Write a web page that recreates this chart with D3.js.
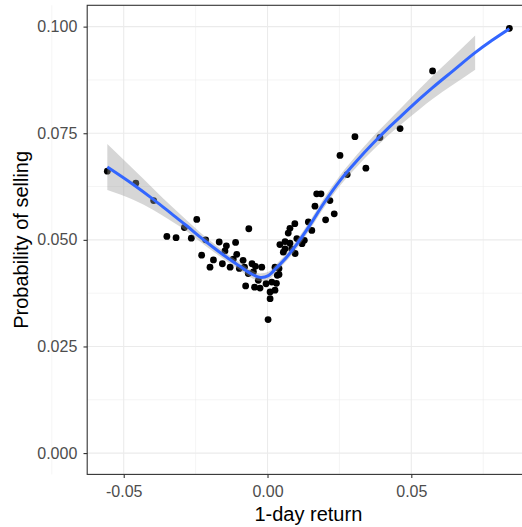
<!DOCTYPE html>
<html>
<head>
<meta charset="utf-8">
<script src="https://cdn.jsdelivr.net/npm/d3@7"></script>
<style>
  body { margin: 0; background: #fff; }
  svg text { font-family: "Liberation Sans", Arial, sans-serif; }
</style>
</head>
<body>
<svg id="chart" width="522" height="527"></svg>
<script>
// observed points: 1-day return vs probability of selling
const pointReturn = [
  -0.0557, -0.0458, -0.0396, -0.0350, -0.0318, -0.0289, -0.0265, -0.0246, -0.0215, -0.0229,
  -0.0200, -0.0188, -0.0168, -0.0143, -0.0148, -0.0111, -0.0157, -0.0107, -0.0119, -0.0130,
  -0.0085, -0.0080, -0.0098, -0.0065, -0.0054, -0.0042, -0.0020, -0.0067, -0.0049, -0.0076,
  -0.0045, -0.0032, -0.0026, -0.0005, 0.0009, 0.0009, 0.0002, 0.0015, 0.0026, 0.0031,
  0.0034, 0.0040, 0.0026, 0.0040, 0.0043, 0.0061, 0.0055, 0.0061, 0.0072, 0.0078,
  0.0095, 0.0078, 0.0084, 0.0102, 0.0096, 0.0128, 0.0120, 0.0142, 0.0154, 0.0171,
  0.0186, 0.0165, 0.0217, 0.0202, 0.0232, 0.0252, 0.0277, 0.0304, 0.0342, 0.0391,
  0.0461, 0.0574, 0.0841
]
const pointProb = [
  0.0661, 0.0633, 0.0592, 0.0508, 0.0505, 0.0529, 0.0504, 0.0548, 0.0500, 0.0464,
  0.0436, 0.0453, 0.0495, 0.0486, 0.0474, 0.0494, 0.0444, 0.0466, 0.0455, 0.0436,
  0.0452, 0.0436, 0.0433, 0.0526, 0.0444, 0.0438, 0.0436, 0.0421, 0.0425, 0.0392,
  0.0389, 0.0405, 0.0387, 0.0397, 0.0378, 0.0362, 0.0313, 0.0401, 0.0382, 0.0398,
  0.0417, 0.0419, 0.0436, 0.0433, 0.0489, 0.0496, 0.0471, 0.0479, 0.0516, 0.0527,
  0.0538, 0.0492, 0.0479, 0.0503, 0.0468, 0.0499, 0.0491, 0.0542, 0.0522, 0.0608,
  0.0608, 0.0579, 0.0592, 0.0547, 0.0561, 0.0698, 0.0653, 0.0742, 0.0668, 0.0740,
  0.0761, 0.0896, 0.0996
]

// loess fit, with half width of the confidence band
const smoothReturn = [
  -0.0557, -0.0467, -0.0397, -0.0328, -0.0281, -0.0235, -0.0188, -0.0142, -0.0096, -0.0061,
  -0.0026, 0.0003, 0.0032, 0.0067, 0.0102, 0.0148, 0.0194, 0.0252, 0.0310, 0.0368,
  0.0426, 0.0461, 0.0530, 0.0574, 0.0646, 0.0722, 0.0781, 0.0841
]
const smoothProb = [
  0.0671, 0.0630, 0.0595, 0.0558, 0.0533, 0.0507, 0.0482, 0.0459, 0.0438, 0.0422,
  0.0412, 0.0416, 0.0435, 0.0460, 0.0490, 0.0535, 0.0584, 0.0639, 0.0685, 0.0727,
  0.0766, 0.0788, 0.0831, 0.0857, 0.0897, 0.0939, 0.0968, 0.0995
]
const smoothHalf = [
  0.0054, 0.0036, 0.0025, 0.0017, 0.0013, 0.0011, 0.0010, 0.0009, 0.0009, 0.0009,
  0.0009, 0.0009, 0.0009, 0.0009, 0.0010, 0.0010, 0.0011, 0.0012, 0.0014, 0.0016,
  0.0017, 0.0019, 0.0024, 0.0027, 0.0033, 0.0040, 0.0050, 0.0060
]

const xTicks = [-0.05, 0, 0.05]
const xTickLabels = ['-0.05', '0.00', '0.05']
const xMinor = [-0.075, -0.025, 0.025, 0.075]
const yTicks = [0, 0.025, 0.05, 0.075, 0.1]
const yTickLabels = ['0.000', '0.025', '0.050', '0.075', '0.100']
const yMinor = [0.0125, 0.0375, 0.0625, 0.0875]
const yLimit = [0, 0.1]

const panel = { left: 87.2, top: 5.3, right: 529.5, bottom: 474.4 }

const svg = d3.select('#chart')

const xScale = d3.scaleLinear()
  .domain([-0.0627, 0.0911])
  .range([panel.left, panel.right])

const yScale = d3.scaleLinear()
  .domain([yLimit[0] - 0.005, yLimit[1] + 0.005])
  .range([panel.bottom, panel.top])

svg.append('defs').append('clipPath')
  .attr('id', 'panel-clip')
  .append('rect')
  .attr('x', panel.left)
  .attr('y', panel.top)
  .attr('width', panel.right - panel.left)
  .attr('height', panel.bottom - panel.top)

// grid
const grid = svg.append('g').attr('class', 'grid')
grid.selectAll('.x-minor')
  .data(xMinor)
  .join('line')
  .attr('x1', d => xScale(d)).attr('x2', d => xScale(d))
  .attr('y1', panel.top).attr('y2', panel.bottom)
  .attr('stroke', '#ebebeb').attr('stroke-width', 0.55)
grid.selectAll('.y-minor')
  .data(yMinor)
  .join('line')
  .attr('y1', d => yScale(d)).attr('y2', d => yScale(d))
  .attr('x1', panel.left).attr('x2', panel.right)
  .attr('stroke', '#ebebeb').attr('stroke-width', 0.55)
grid.selectAll('.x-major')
  .data(xTicks)
  .join('line')
  .attr('x1', d => xScale(d)).attr('x2', d => xScale(d))
  .attr('y1', panel.top).attr('y2', panel.bottom)
  .attr('stroke', '#ebebeb').attr('stroke-width', 1.1)
grid.selectAll('.y-major')
  .data(yTicks)
  .join('line')
  .attr('y1', d => yScale(d)).attr('y2', d => yScale(d))
  .attr('x1', panel.left).attr('x2', panel.right)
  .attr('stroke', '#ebebeb').attr('stroke-width', 1.1)

const plot = svg.append('g').attr('clip-path', 'url(#panel-clip)')

// points
plot.append('g')
  .selectAll('circle')
  .data(pointReturn.map((r, i) => ({ r: r, p: pointProb[i] })))
  .join('circle')
  .attr('cx', d => xScale(d.r))
  .attr('cy', d => yScale(d.p))
  .attr('r', 3.4)
  .attr('fill', '#000')

// smoother band: rows whose upper bound leaves the y limits are dropped
const smooth = smoothReturn.map((r, i) => ({
  r: r, p: smoothProb[i], lo: smoothProb[i] - smoothHalf[i], hi: smoothProb[i] + smoothHalf[i]
}))
const band = smooth.filter(d => d.hi <= yLimit[1] && d.lo >= yLimit[0])

plot.append('path')
  .datum(band)
  .attr('d', d3.area()
    .x(d => xScale(d.r))
    .y0(d => yScale(d.lo))
    .y1(d => yScale(d.hi))
    .curve(d3.curveMonotoneX))
  .attr('fill', '#999999')
  .attr('fill-opacity', 0.4)

plot.append('path')
  .datum(smooth)
  .attr('d', d3.line()
    .x(d => xScale(d.r))
    .y(d => yScale(d.p))
    .curve(d3.curveCatmullRom.alpha(0.5)))
  .attr('fill', 'none')
  .attr('stroke', '#3366ff')
  .attr('stroke-width', 3)

// border
svg.append('rect')
  .attr('x', panel.left)
  .attr('y', panel.top)
  .attr('width', panel.right - panel.left)
  .attr('height', panel.bottom - panel.top)
  .attr('fill', 'none')
  .attr('stroke', '#333333')
  .attr('stroke-width', 1.1)

// axes
const xAxis = svg.append('g')
  .attr('class', 'x-axis')
  .attr('transform', 'translate(0,' + panel.bottom + ')')
  .call(d3.axisBottom(xScale)
    .tickValues(xTicks)
    .tickFormat((d, i) => xTickLabels[i])
    .tickSize(3.7)
    .tickPadding(8))
xAxis.select('.domain').remove()

const yAxis = svg.append('g')
  .attr('class', 'y-axis')
  .attr('transform', 'translate(' + panel.left + ',0)')
  .call(d3.axisLeft(yScale)
    .tickValues(yTicks)
    .tickFormat((d, i) => yTickLabels[i])
    .tickSize(3.7)
    .tickPadding(6.2))
yAxis.select('.domain').remove()

svg.selectAll('.x-axis .tick line, .y-axis .tick line')
  .attr('stroke', '#333333')
  .attr('stroke-width', 1.1)
svg.selectAll('.x-axis text, .y-axis text')
  .attr('fill', '#4d4d4d')
  .attr('font-size', 16)
  .attr('font-family', '"Liberation Sans", Arial, sans-serif')

// axis titles
svg.append('text')
  .text('1-day return')
  .attr('x', (panel.left + panel.right) / 2)
  .attr('y', 521)
  .attr('text-anchor', 'middle')
  .attr('font-size', 20)
  .attr('fill', '#000')

svg.append('text')
  .text('Probability of selling')
  .attr('transform', 'translate(28,' + ((panel.top + panel.bottom) / 2) + ') rotate(-90)')
  .attr('text-anchor', 'middle')
  .attr('font-size', 20)
  .attr('fill', '#000')
</script>
</body>
</html>
